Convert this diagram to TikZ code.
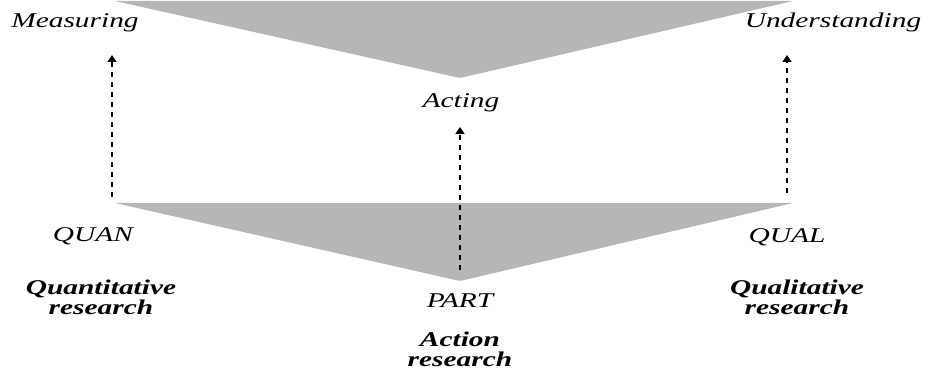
\documentclass[tikz,border=0pt]{standalone}
\usepackage{graphicx}
\usepackage{fontspec}
\setmainfont{Liberation Serif}
\usetikzlibrary{arrows.meta}
\definecolor{trigray}{RGB}{182,182,182}
\newcommand{\widetxt}[1]{\scalebox{1.4}[1]{#1}}
\begin{document}
\begin{tikzpicture}[x=1pt,y=-1pt,
  lbl/.style={font=\fontsize{21}{21}\selectfont\itshape, inner sep=0pt, anchor=base},
  blbl/.style={font=\fontsize{21}{20}\selectfont\bfseries\itshape, inner sep=0pt, align=center, anchor=base},
  uparrow/.style={-{Triangle[length=7pt,width=9pt]}, line width=2pt, dash pattern=on 5pt off 5pt}]
\useasboundingbox (0,0) rectangle (930,371);
% triangles
\fill[trigray, rounded corners=2pt] (115,1) -- (793,1) -- (460,78) -- cycle;
\fill[trigray, rounded corners=2pt] (115,203) -- (793,203) -- (460,281) -- cycle;
% labels
\node[lbl] (meas) at (75,28) {\widetxt{Measuring}};
\node[lbl] (under) at (833,28) {\widetxt{Understanding}};
\node[lbl] (act) at (461,108) {\widetxt{Acting}};
\node[lbl] (quan) at (93,242) {\widetxt{QUAN}};
\node[lbl] (qual) at (787,243) {\widetxt{QUAL}};
\node[lbl] (part) at (460,308) {\widetxt{PART}};
\node[blbl] (quanr) at (101,315) {\widetxt{Quantitative}\\\widetxt{research}};
\node[blbl] (qualr) at (797,315) {\widetxt{Qualitative}\\\widetxt{research}};
\node[blbl] (actr) at (460,367) {\widetxt{Action}\\\widetxt{research}};
% arrows
\coordinate (s1) at (112,197);
\coordinate (e1) at (112,55);
\coordinate (s2) at (460,270);
\coordinate (e2) at (460,127);
\coordinate (s3) at (787,193);
\coordinate (e3) at (787,55);
\draw[uparrow] (s1) -- (e1);
\draw[uparrow] (s2) -- (e2);
\draw[uparrow] (s3) -- (e3);
\end{tikzpicture}
\end{document}
